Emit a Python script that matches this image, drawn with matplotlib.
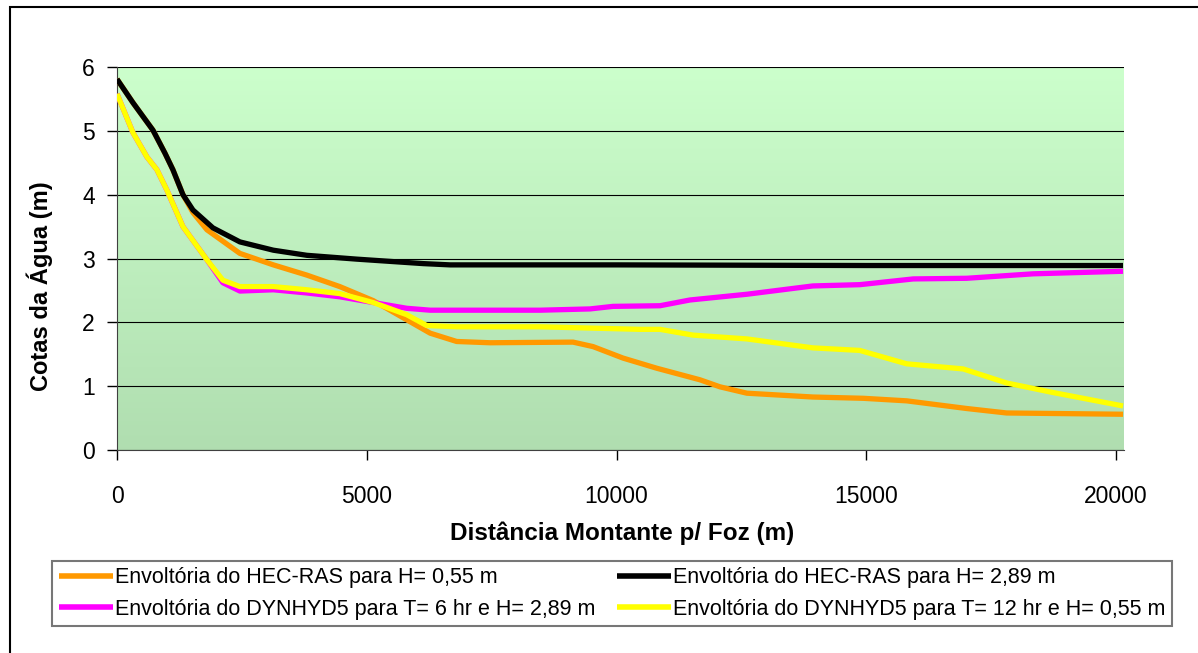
import matplotlib.pyplot as plt
import numpy as np
from matplotlib.patches import Rectangle

plt.rcParams['font.family'] = ['Liberation Sans', 'DejaVu Sans']

# data (distance in m, water level in m)
x_hec_055 = [0, 320, 720, 960, 1120, 1320, 1520, 1800, 2460, 3130, 3800, 4460,
             5130, 5800, 6270, 6800, 7470, 9130, 9530, 10130, 10810, 11670,
             12070, 12610, 13930, 14940, 15810, 17010, 17810, 20140]
y_hec_055 = [5.81, 5.44, 5.01, 4.65, 4.39, 4.0, 3.72, 3.45, 3.08, 2.90, 2.74, 2.56,
             2.34, 2.04, 1.83, 1.70, 1.68, 1.69, 1.62, 1.44, 1.28, 1.10,
             0.99, 0.89, 0.83, 0.81, 0.77, 0.65, 0.58, 0.56]

x_hec_289 = [0, 320, 720, 960, 1120, 1320, 1520, 1920, 2460, 3130, 3800, 4800,
             6130, 6670, 10000, 15000, 20140]
y_hec_289 = [5.81, 5.44, 5.01, 4.65, 4.39, 4.0, 3.76, 3.48, 3.26, 3.13, 3.05, 2.99,
             2.92, 2.90, 2.90, 2.89, 2.89]

x_dyn_6 = [0, 320, 600, 800, 1000, 1320, 1800, 2120, 2460, 3130, 3800, 4460,
           5130, 5800, 6270, 8470, 9470, 9930, 10870, 11470, 12610, 13930, 14870,
           15940, 17010, 18340, 20140]
y_dyn_6 = [5.58, 4.97, 4.59, 4.39, 4.07, 3.5, 2.98, 2.62, 2.49, 2.51, 2.46, 2.40,
           2.31, 2.22, 2.19, 2.19, 2.21, 2.25, 2.26, 2.35, 2.44, 2.57, 2.59,
           2.68, 2.69, 2.76, 2.80]

x_dyn_12 = [0, 320, 600, 800, 1000, 1320, 1800, 2120, 2460, 3130, 3800, 4460,
            5130, 5800, 6200, 6800, 8470, 10470, 10870, 11530, 12610, 13930, 14870,
            15810, 16940, 17810, 18740, 20140]
y_dyn_12 = [5.58, 4.97, 4.59, 4.39, 4.07, 3.5, 2.98, 2.66, 2.56, 2.56, 2.51, 2.45,
            2.31, 2.12, 1.95, 1.93, 1.93, 1.89, 1.89, 1.80, 1.74, 1.60, 1.56,
            1.35, 1.27, 1.05, 0.90, 0.69]

W, H = 1198, 653
fig = plt.figure(figsize=(W / 100, H / 100), dpi=100)
ax = fig.add_axes([117 / W, 1 - 450 / H, (1124 - 117) / W, (450 - 67) / H])

# gradient background of the plot area
grad = np.linspace(0, 1, 256).reshape(-1, 1)
top = np.array([0.80, 1.00, 0.80])
bot = np.array([0.69, 0.87, 0.69])
img = top + (bot - top) * grad[:, :, None]
ax.imshow(img, extent=[0, 1, 0, 1], transform=ax.transAxes, aspect='auto', zorder=0)

lw = 3.8
style = dict(lw=lw, solid_joinstyle='round', solid_capstyle='butt')
ax.plot(x_hec_055, y_hec_055, color='#FF9900', zorder=3,
        label='Envoltória do HEC-RAS para H= 0,55 m', **style)
ax.plot(x_dyn_6, y_dyn_6, color='#FF00FF', zorder=3,
        label='Envoltória do DYNHYD5 para T= 6 hr e H= 2,89 m', **style)
ax.plot(x_hec_289, y_hec_289, color='black', zorder=4,
        label='Envoltória do HEC-RAS para H= 2,89 m', **style)
ax.plot(x_dyn_12, y_dyn_12, color='#FFFF00', zorder=4,
        label='Envoltória do DYNHYD5 para T= 12 hr e H= 0,55 m', **style)

ax.set_xlim(0, 20160)
ax.set_ylim(0, 6)
ax.set_xticks([0, 5000, 10000, 15000, 20000])
ax.set_yticks(range(0, 7))
ax.grid(axis='y', color='black', lw=0.8, zorder=1)
ax.set_axisbelow(True)
for s in ['top', 'right']:
    ax.spines[s].set_visible(False)
for s in ['left', 'bottom']:
    ax.spines[s].set_color('#404040')
ax.tick_params(direction='out', length=7, width=1, labelsize=16.5)
ax.tick_params(axis='y', pad=9)
ax.tick_params(axis='x', pad=18)

fig.text(622 / W, 1 - 533 / H, 'Distância Montante p/ Foz (m)', fontsize=17.5,
         fontweight='bold', ha='center', va='center')
fig.text(40 / W, 1 - 286 / H, 'Cotas da Água (m)', fontsize=17, fontweight='bold',
         ha='center', va='center', rotation=90)

handles, labels = ax.get_legend_handles_labels()
leg = fig.legend(handles, labels, loc='center', bbox_to_anchor=(612 / W, 1 - 593.5 / H),
                 ncol=2, fontsize=15.5, frameon=True, fancybox=False, handlelength=2.5,
                 handletextpad=0.1, columnspacing=1.0, borderpad=0.3,
                 borderaxespad=0, labelspacing=0.5)
leg.get_frame().set_edgecolor('#555555')
leg.get_frame().set_linewidth(1.5)
for line in leg.get_lines():
    line.set_linewidth(4)

# outer chart border
fig.patches.append(Rectangle((10 / W, -0.1), 1.2, 1 - 7 / H + 0.1, transform=fig.transFigure,
                             fill=False, edgecolor='black', lw=1.5))

fig.savefig('out.png', dpi=100)
